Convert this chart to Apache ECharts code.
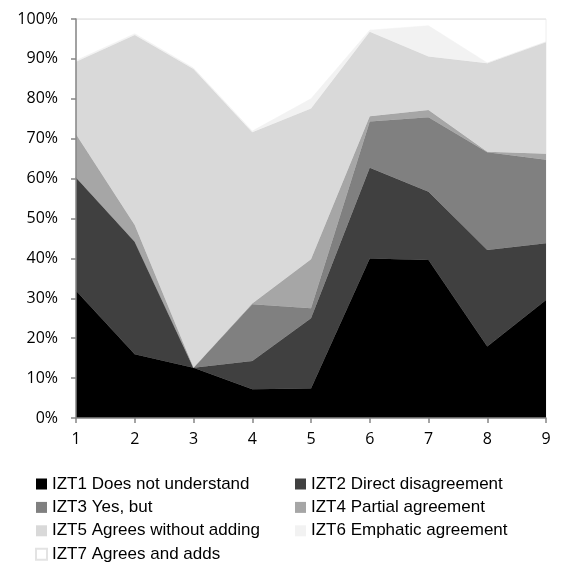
<!DOCTYPE html>
<html>
<head>
<meta charset="utf-8">
<script src="https://cdn.jsdelivr.net/npm/echarts@6/dist/echarts.min.js"></script>
<style>
  html, body { margin: 0; padding: 0; background: #fff; }
  #chart { width: 561px; height: 579px; }
</style>
</head>
<body>
<div id="chart"></div>
<script>
// Share of each response type per item (percent, stacked to 100)
const categories = ['1', '2', '3', '4', '5', '6', '7', '8', '9'];
const izt1 = [31.9, 16.0, 12.6, 7.2, 7.4, 40.0, 39.6, 17.9, 29.6];
const izt2 = [28.4, 28.2, 0.0, 7.1, 17.6, 22.7, 17.1, 24.2, 14.2];
const izt3 = [0.0, 0.0, 0.0, 14.2, 2.5, 11.6, 18.7, 24.5, 20.9];
const izt4 = [10.8, 4.2, 0.0, 0.2, 12.3, 1.3, 1.8, 0.1, 1.5];
const izt5 = [18.2, 47.6, 74.9, 42.9, 37.8, 21.2, 13.4, 22.2, 28.0];
const izt6 = [0.3, 0.3, 0.2, 0.3, 2.4, 0.4, 7.7, 0.1, 0.1];
const izt7 = [10.4, 3.7, 12.3, 28.1, 20.0, 2.8, 1.7, 11.0, 5.7];

const seriesNames = [
  'IZT1 Does not understand',
  'IZT2 Direct disagreement',
  'IZT3 Yes, but',
  'IZT4 Partial agreement',
  'IZT5 Agrees without adding',
  'IZT6 Emphatic agreement',
  'IZT7 Agrees and adds'
];
const seriesData = [izt1, izt2, izt3, izt4, izt5, izt6, izt7];
const fills = ['#000000', '#404040', '#808080', '#a6a6a6', '#d9d9d9', '#f2f2f2', '#ffffff'];

const legendFont = {
  fontFamily: '"Liberation Sans Narrow", "Arial Narrow", "Liberation Sans", sans-serif',
  fontSize: 17,
  color: '#000',
  lineHeight: 20
};

function legendBlock(left, names) {
  return {
    orient: 'vertical',
    left: left,
    top: 474,
    itemWidth: 11,
    itemHeight: 11,
    itemGap: 3.4,
    itemTextGap: 3,
    icon: 'rect',
    padding: 0,
    selectedMode: false,
    textStyle: legendFont,
    data: names
  };
}

const series = seriesData.map((vals, i) => {
  const last = i === seriesData.length - 1;
  return {
    name: seriesNames[i],
    type: 'line',
    stack: 'total',
    data: vals,
    symbol: 'none',
    showSymbol: false,
    smooth: false,
    lineStyle: last ? { color: '#e6e6e6', width: 1.5 } : { width: 0.6, color: fills[i] },
    areaStyle: { color: fills[i], opacity: last ? 0 : 1 },
    itemStyle: last ? { color: '#ffffff', borderColor: '#e3e3e3', borderWidth: 1 } : { color: fills[i] },
    emphasis: { disabled: true },
    z: 2 + i
  };
});

const axisFont = {
  fontFamily: '"Open Sans", sans-serif',
  fontSize: 16,
  color: '#000'
};

const chart = echarts.init(document.getElementById('chart'), null, { renderer: 'canvas' });
chart.setOption({
  animation: false,
  backgroundColor: '#ffffff',
  grid: {
    left: 76, right: 15, top: 19, bottom: 161,
    show: true, borderColor: '#eeeeee', borderWidth: 1, backgroundColor: 'transparent'
  },
  legend: [
    legendBlock(35, [seriesNames[0], seriesNames[2], seriesNames[4], seriesNames[6]]),
    legendBlock(295, [seriesNames[1], seriesNames[3], seriesNames[5]])
  ],
  xAxis: {
    type: 'category',
    data: categories,
    boundaryGap: false,
    axisLine: { lineStyle: { color: '#868686', width: 1.5 } },
    axisTick: { show: true, alignWithLabel: true, length: 5, lineStyle: { color: '#868686', width: 1.5 } },
    axisLabel: Object.assign({ margin: 13 }, axisFont),
    splitLine: { show: false },
    z: 20
  },
  yAxis: {
    type: 'value',
    min: 0,
    max: 100,
    interval: 10,
    axisLine: { show: true, lineStyle: { color: '#868686', width: 1.5 } },
    axisTick: { show: true, length: 5, lineStyle: { color: '#868686', width: 1.5 } },
    axisLabel: Object.assign({ formatter: '{value}%', margin: 18 }, axisFont),
    splitLine: { show: false },
    z: 20
  },
  series: series
});
</script>
</body>
</html>
